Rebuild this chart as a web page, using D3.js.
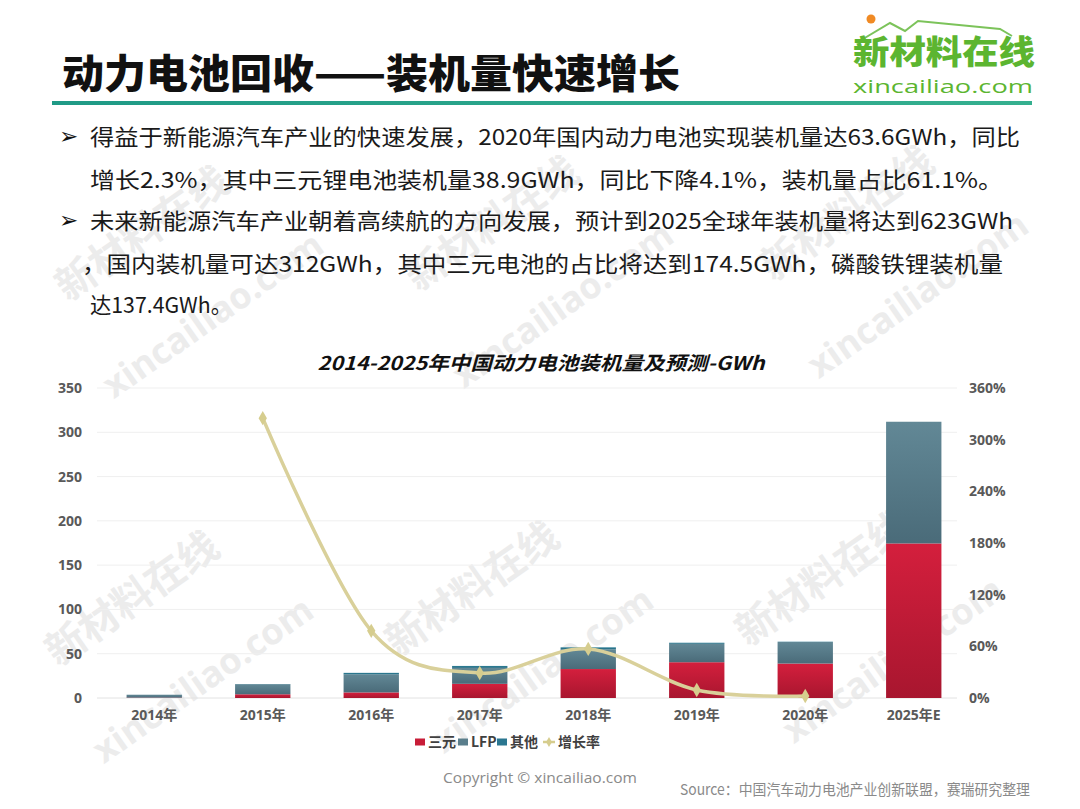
<!DOCTYPE html>
<html>
<head>
<meta charset="utf-8">
<script src="https://cdn.jsdelivr.net/npm/d3@7"></script>
<style>
  body { margin: 0; background: #fff; }
  svg { display: block; font-family: "Noto Sans CJK SC", "Noto Sans", sans-serif; }
</style>
</head>
<body>
<div id="chartArea"></div>
<script>

// data
var years = ['2014年', '2015年', '2016年', '2017年', '2018年', '2019年', '2020年', '2025年E'];
var ncm = [0.4, 4.2, 6.3, 16.0, 32.7, 40.4, 38.9, 174.5];      // 三元
var lfp = [3.3, 11.3, 20.3, 18.0, 22.2, 20.8, 24.4, 137.4];    // LFP
var other = [0, 0.3, 1.8, 2.2, 2.3, 1.2, 0.3, 0];              // 其他
var growth = [null, 3.25, 0.78, 0.29, 0.57, 0.093, 0.023, null]; // 增长率

var leftTicks = [0, 50, 100, 150, 200, 250, 300, 350];
var rightTicks = [0, 0.6, 1.2, 1.8, 2.4, 3.0, 3.6];
var seriesNames = ['三元', 'LFP', '其他', '增长率'];

var bullets = [
  ['得益于新能源汽车产业的快速发展，2020年国内动力电池实现装机量达63.6GWh，同比',
   '增长2.3%，其中三元锂电池装机量38.9GWh，同比下降4.1%，装机量占比61.1%。'],
  ['未来新能源汽车产业朝着高续航的方向发展，预计到2025全球年装机量将达到623GWh',
   '，国内装机量可达312GWh，其中三元电池的占比将达到174.5GWh，磷酸铁锂装机量',
   '达137.4GWh。']
];

var W = 1080, H = 809;
var svg = d3.select('#chartArea').append('svg')
  .attr('width', W)
  .attr('height', H);

var defs = svg.append('defs');
function vgrad(id, top, bottom) {
  var g = defs.append('linearGradient').attr('id', id)
    .attr('x1', 0).attr('y1', 0).attr('x2', 0).attr('y2', 1);
  g.append('stop').attr('offset', '0%').attr('stop-color', top);
  g.append('stop').attr('offset', '100%').attr('stop-color', bottom);
}
vgrad('gRed', '#d41f3d', '#a8162f');
vgrad('gGray', '#628896', '#4a6b79');
vgrad('gTeal', '#2e7f97', '#256a80');
var hg = defs.append('linearGradient').attr('id', 'gLine');
hg.append('stop').attr('offset', '0%').attr('stop-color', '#1f9a86');
hg.append('stop').attr('offset', '100%').attr('stop-color', '#35b08f');

// watermarks
var wm = svg.append('g').attr('fill', '#ececec').attr('font-weight', 'bold');
[[150, 245], [500, 235], [855, 225], [140, 610], [480, 600], [830, 590]].forEach(function (p) {
  wm.append('text').attr('transform', 'translate(' + p[0] + ',' + p[1] + ') rotate(-35)')
    .attr('text-anchor', 'middle').attr('font-size', 40).text('新材料在线');
  wm.append('text').attr('transform', 'translate(' + (p[0] + 70) + ',' + (p[1] + 80) + ') rotate(-35)')
    .attr('text-anchor', 'middle').attr('font-size', 36).attr('font-family', 'Open Sans').text('xincailiao.com');
});

// header
svg.append('text')
  .attr('x', 62).attr('y', 88)
  .attr('font-size', 40).attr('font-weight', 900).attr('fill', '#111')
  .attr('textLength', 618).attr('lengthAdjust', 'spacingAndGlyphs')
  .text('动力电池回收——装机量快速增长');
svg.append('rect').attr('x', 52).attr('y', 101).attr('width', 980).attr('height', 4)
  .attr('fill', 'url(#gLine)');

// logo
svg.append('polyline')
  .attr('points', '858,42 890,23 905,31 918,21 1000,29 1012,36')
  .attr('fill', 'none').attr('stroke', '#7cc35a').attr('stroke-width', 2);
svg.append('circle').attr('cx', 871).attr('cy', 19).attr('r', 4.5).attr('fill', '#f08a24');
svg.append('text').attr('x', 853).attr('y', 64)
  .attr('font-size', 33).attr('font-weight', 900).attr('fill', '#5cb530')
  .attr('textLength', 182).attr('lengthAdjust', 'spacingAndGlyphs')
  .text('新材料在线');
svg.append('text').attr('x', 853).attr('y', 93)
  .attr('font-size', 19).attr('font-family', 'Open Sans').attr('fill', '#5cb530')
  .attr('textLength', 180).attr('lengthAdjust', 'spacingAndGlyphs')
  .text('xincailiao.com');

// bullet text
var lineY = [[145, 188], [229, 272, 313]];
var lineLen = [[930, 913], [923, 921, 142]];
var lineX = [[90, 90], [90, 82, 90]];
bullets.forEach(function (para, i) {
  svg.append('text').attr('x', 59).attr('y', lineY[i][0] - 1)
    .attr('font-size', 23).attr('font-weight', 'bold').attr('fill', '#111')
    .attr('font-family', 'DejaVu Sans')
    .text('➢');
  para.forEach(function (line, j) {
    svg.append('text').attr('x', lineX[i][j]).attr('y', lineY[i][j])
      .attr('font-size', 22).attr('fill', '#1a1a1a')
      .attr('textLength', lineLen[i][j]).attr('lengthAdjust', 'spacingAndGlyphs')
      .text(line);
  });
});

// chart title
svg.append('text').attr('x', 541).attr('y', 370)
  .attr('text-anchor', 'middle').attr('font-size', 19).attr('font-weight', 'bold')
  .attr('font-style', 'italic').attr('fill', '#111')
  .attr('textLength', 447).attr('lengthAdjust', 'spacingAndGlyphs')
  .text('2014-2025年中国动力电池装机量及预测-GWh');

// scales
var x = d3.scaleBand().domain(years).range([100, 968]).paddingInner(0.49).paddingOuter(0.245);
var y = d3.scaleLinear().domain([0, 350]).range([698, 388]);
var y2 = d3.scaleLinear().domain([0, 3.6]).range([698, 388]);

// grid
svg.append('g').selectAll('line').data(leftTicks).enter().append('line')
  .attr('x1', 97).attr('x2', 957)
  .attr('y1', function (d) { return y(d); })
  .attr('y2', function (d) { return y(d); })
  .attr('stroke', function (d) { return d === 0 ? '#e2e2e2' : '#efefef'; })
  .attr('stroke-width', 1);

// axes
var axisL = svg.append('g').attr('transform', 'translate(88,0)')
  .call(d3.axisLeft(y).tickValues(leftTicks).tickSize(0).tickPadding(6));
var axisR = svg.append('g').attr('transform', 'translate(963,0)')
  .call(d3.axisRight(y2).tickValues(rightTicks).tickSize(0).tickPadding(6).tickFormat(d3.format('.0%')));
var axisB = svg.append('g').attr('transform', 'translate(0,698)')
  .call(d3.axisBottom(x).tickSize(0).tickPadding(12));
[axisL, axisR, axisB].forEach(function (a) {
  a.select('.domain').remove();
  a.selectAll('text').attr('font-size', 14).attr('font-weight', 'bold')
    .attr('fill', '#595959').attr('font-family', 'Open Sans, Noto Sans CJK SC');
});

// stacked bars
var rows = years.map(function (yr, i) {
  return { year: yr, ncm: ncm[i], lfp: lfp[i], other: other[i] };
});
var stack = d3.stack().keys(['ncm', 'lfp', 'other'])(rows);
var fills = { ncm: 'url(#gRed)', lfp: 'url(#gGray)', other: 'url(#gTeal)' };

svg.append('g').selectAll('g').data(stack).enter().append('g')
  .attr('fill', function (s) { return fills[s.key]; })
  .selectAll('rect').data(function (s) { return s; }).enter().append('rect')
  .attr('x', function (d) { return x(d.data.year); })
  .attr('width', x.bandwidth())
  .attr('y', function (d) { return y(d[1]); })
  .attr('height', function (d) { return Math.max(0, y(d[0]) - y(d[1])); });

// growth line
var pts = years.map(function (yr, i) { return { year: yr, v: growth[i] }; })
  .filter(function (d) { return d.v !== null; });
var line = d3.line()
  .x(function (d) { return x(d.year) + x.bandwidth() / 2; })
  .y(function (d) { return y2(d.v); })
  .curve(d3.curveCardinal.tension(0));
svg.append('path').datum(pts)
  .attr('d', line)
  .attr('fill', 'none').attr('stroke', '#d9d09a').attr('stroke-width', 3.5);
svg.append('g').selectAll('path').data(pts).enter().append('path')
  .attr('d', d3.symbol().type(d3.symbolDiamond).size(60))
  .attr('transform', function (d) {
    return 'translate(' + (x(d.year) + x.bandwidth() / 2) + ',' + y2(d.v) + ')';
  })
  .attr('fill', '#d6cd8e');

// legend
var legX = [415, 458, 497, 543];
var legCol = ['#c81d38', '#5a7e8c', '#2a7690', '#d6cd8e'];
var leg = svg.append('g').attr('transform', 'translate(0,742)');
seriesNames.forEach(function (name, i) {
  if (i < 3) {
    leg.append('rect').attr('x', legX[i]).attr('y', -3.5).attr('width', 10).attr('height', 7)
      .attr('fill', legCol[i]);
  } else {
    leg.append('line').attr('x1', legX[i]).attr('x2', legX[i] + 12)
      .attr('y1', 0).attr('y2', 0).attr('stroke', legCol[i]).attr('stroke-width', 2.5);
    leg.append('path').attr('d', d3.symbol().type(d3.symbolDiamond).size(30))
      .attr('transform', 'translate(' + (legX[i] + 6) + ',0)').attr('fill', legCol[i]);
  }
  leg.append('text').attr('x', legX[i] + (i < 3 ? 13 : 15)).attr('y', 5)
    .attr('font-size', 14).attr('font-weight', 'bold').attr('fill', '#404040')
    .text(name);
});

// footer
svg.append('text').attr('x', 443).attr('y', 783)
  .attr('font-size', 15).attr('fill', '#8a8a8a').attr('font-family', 'Open Sans')
  .attr('textLength', 194).attr('lengthAdjust', 'spacingAndGlyphs')
  .text('Copyright © xincailiao.com');
svg.append('text').attr('x', 680).attr('y', 795)
  .attr('font-size', 15).attr('fill', '#8a8a8a')
  .attr('textLength', 350).attr('lengthAdjust', 'spacingAndGlyphs')
  .text('Source：中国汽车动力电池产业创新联盟，赛瑞研究整理');

</script>
</body>
</html>
